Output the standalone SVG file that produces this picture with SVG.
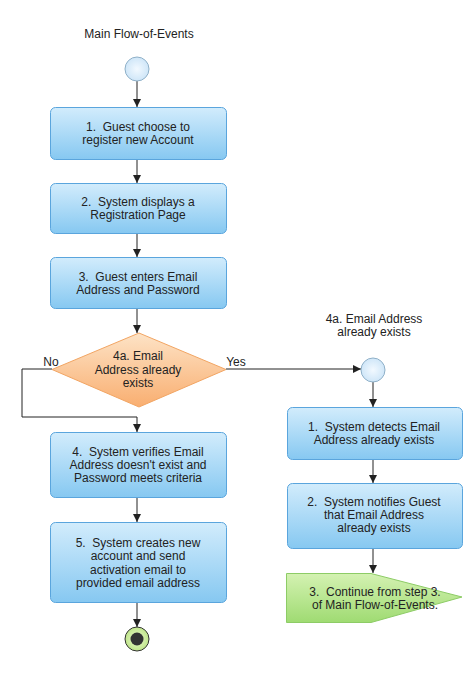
<svg xmlns="http://www.w3.org/2000/svg" width="466" height="677" viewBox="0 0 466 677">
<style>
text{font-family:"Liberation Sans",Arial,sans-serif;font-size:12px;fill:#222;text-anchor:middle;white-space:pre}
.box{fill:url(#gBlue);stroke:#5aa5dd;stroke-width:1}
.conn{fill:none;stroke:#222;stroke-width:1}
</style>
<defs>
<linearGradient id="gBlue" x1="0" y1="0" x2="0" y2="1">
<stop offset="0" stop-color="#d2ecfc"/>
<stop offset="1" stop-color="#86c8f1"/>
</linearGradient>
<linearGradient id="gOrange" x1="0" y1="0" x2="0" y2="1">
<stop offset="0" stop-color="#fde3c6"/>
<stop offset="1" stop-color="#f9ae70"/>
</linearGradient>
<linearGradient id="gGreen" x1="0" y1="0" x2="0" y2="1">
<stop offset="0" stop-color="#d4f2b2"/>
<stop offset="1" stop-color="#9fdb72"/>
</linearGradient>
<radialGradient id="gCircle" cx="0.5" cy="0.5" r="0.5">
<stop offset="0" stop-color="#f2f9ff"/>
<stop offset="1" stop-color="#cfe6f8"/>
</radialGradient>
<radialGradient id="gEnd" cx="0.5" cy="0.5" r="0.5">
<stop offset="0" stop-color="#eefad0"/>
<stop offset="1" stop-color="#bfe58a"/>
</radialGradient>
<marker id="arr" markerUnits="userSpaceOnUse" markerWidth="9" markerHeight="9" refX="8" refY="4" orient="auto">
<path d="M0,0 L8,4 L0,8 z" fill="#222"/>
</marker>
</defs>

<text x="139" y="38">Main Flow-of-Events</text>
<text x="374" y="323">4a. Email Address</text>
<text x="374" y="336">already exists</text>

<g id="connectors">
<path class="conn" d="M137,81 V107" marker-end="url(#arr)"/>
<path class="conn" d="M137,159 V183" marker-end="url(#arr)"/>
<path class="conn" d="M137,233 V257" marker-end="url(#arr)"/>
<path class="conn" d="M137,308 V333" marker-end="url(#arr)"/>
<path class="conn" d="M52,369 H22 V417 H137 V432" marker-end="url(#arr)"/>
<path class="conn" d="M226,369 H361" marker-end="url(#arr)"/>
<path class="conn" d="M373,382 V407" marker-end="url(#arr)"/>
<path class="conn" d="M373,459 V483" marker-end="url(#arr)"/>
<path class="conn" d="M373,548 V573" marker-end="url(#arr)"/>
<path class="conn" d="M137,498 V522" marker-end="url(#arr)"/>
<path class="conn" d="M137,603 V627" marker-end="url(#arr)"/>
<text x="51" y="366">No</text>
<text x="236" y="366">Yes</text>
</g>

<g id="start">
<circle cx="137" cy="69" r="12" fill="url(#gCircle)" stroke="#8fb0c8"/>
</g>

<g id="step1">
<rect class="box" x="50.5" y="107.5" width="176" height="52" rx="5"/>
<text x="138" y="131">1.  Guest choose to</text>
<text x="138" y="144">register new Account</text>
</g>

<g id="step2">
<rect class="box" x="50.5" y="183.5" width="176" height="50" rx="5"/>
<text x="138" y="206">2.  System displays a</text>
<text x="138" y="219">Registration Page</text>
</g>

<g id="step3">
<rect class="box" x="50.5" y="257.5" width="176" height="51" rx="5"/>
<text x="138" y="281">3.  Guest enters Email</text>
<text x="138" y="294">Address and Password</text>
</g>

<g id="decision">
<polygon points="139,333 226,369.5 139,407 52,369.5" fill="url(#gOrange)" stroke="#f2a563"/>
<text x="138" y="360">4a. Email</text>
<text x="138" y="374">Address already</text>
<text x="138" y="387">exists</text>
</g>

<g id="step4">
<rect class="box" x="50.5" y="432.5" width="176" height="65" rx="5"/>
<text x="138" y="456">4.  System verifies Email</text>
<text x="138" y="469">Address doesn't exist and</text>
<text x="138" y="482">Password meets criteria</text>
</g>

<g id="step5">
<rect class="box" x="50.5" y="522.5" width="176" height="80" rx="5"/>
<text x="138" y="547">5.  System creates new</text>
<text x="138" y="560">account and send</text>
<text x="138" y="574">activation email to</text>
<text x="138" y="587">provided email address</text>
</g>

<g id="end">
<circle cx="137" cy="639" r="12" fill="url(#gEnd)" stroke="#333"/>
<circle cx="137" cy="639" r="6.5" fill="#333"/>
</g>

<g id="alt-start">
<circle cx="373" cy="370" r="12" fill="url(#gCircle)" stroke="#8fb0c8"/>
</g>

<g id="alt1">
<rect class="box" x="287.5" y="407.5" width="175" height="52" rx="5"/>
<text x="374" y="431">1.  System detects Email</text>
<text x="374" y="444">Address already exists</text>
</g>

<g id="alt2">
<rect class="box" x="287.5" y="483.5" width="175" height="65" rx="5"/>
<text x="374" y="506">2.  System notifies Guest</text>
<text x="374" y="519">that Email Address</text>
<text x="374" y="532">already exists</text>
</g>

<g id="alt3">
<polygon points="286.5,573.5 371,573.5 462,597 371,622.5 286.5,622.5" fill="url(#gGreen)" stroke="#8dcc66"/>
<text x="375" y="596">3.  Continue from step 3.</text>
<text x="375" y="609">of Main Flow-of-Events.</text>
</g>
</svg>
